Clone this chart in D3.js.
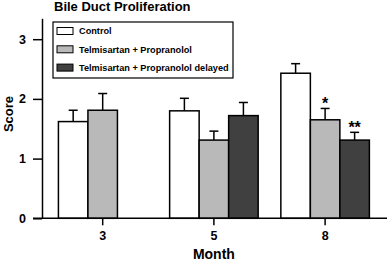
<!DOCTYPE html>
<html>
<head>
<meta charset="utf-8">
<script src="https://cdn.jsdelivr.net/npm/d3@7"></script>
<style>
  body { margin: 0; background: #fff; }
  svg text { font-family: "Liberation Sans", Arial, sans-serif; font-weight: bold; }
</style>
</head>
<body>
<div id="chart"></div>
<script>
var width = 387;
var height = 262;

// data
var months = ["3", "5", "8"];
var groups = ["Control", "Telmisartan + Propranolol", "Telmisartan + Propranolol delayed"];
var colors = ["#ffffff", "#b9b9b9", "#404040"];
var means = [
    [1.62, 1.81, null],
    [1.80, 1.31, 1.72],
    [2.43, 1.65, 1.31]
];
var errs = [
    [0.19, 0.28, null],
    [0.21, 0.15, 0.22],
    [0.16, 0.19, 0.13]
];
var marks = [
    ["", "", ""],
    ["", "", ""],
    ["", "*", "**"]
];
var yTicks = [0, 1, 2, 3];

var svg = d3.select('#chart').append('svg')
    .attr("width", width)
    .attr("height", height);

var y = d3.scaleLinear()
    .domain([0, 3.35])
    .range([218.3, 18.3]);

var x = d3.scaleBand()
    .domain(months)
    .range([47.3, 380.5])
    .paddingInner(0.204)
    .paddingOuter(0.1);

var xs = d3.scaleBand()
    .domain(groups)
    .range([0, x.bandwidth()]);

// bars
var rows = [];
months.forEach(function(m, i) {
    groups.forEach(function(g, j) {
        if (means[i][j] != null) {
            rows.push({month: m, group: g, j: j, v: means[i][j], e: errs[i][j], mark: marks[i][j]});
        }
    });
});

var bar = svg.append("g").selectAll("g")
    .data(rows)
    .enter().append("g")
    .attr("transform", function(d) { return "translate(" + (x(d.month) + xs(d.group)) + ",0)"; });

// error bars (upper only)
bar.append("line")
    .attr("x1", xs.bandwidth() / 2)
    .attr("x2", xs.bandwidth() / 2)
    .attr("y1", function(d) { return y(d.v); })
    .attr("y2", function(d) { return y(d.v + d.e); })
    .attr("stroke", "#000")
    .attr("stroke-width", 1.5);
bar.append("line")
    .attr("x1", xs.bandwidth() / 2 - 4.5)
    .attr("x2", xs.bandwidth() / 2 + 4.5)
    .attr("y1", function(d) { return y(d.v + d.e); })
    .attr("y2", function(d) { return y(d.v + d.e); })
    .attr("stroke", "#000")
    .attr("stroke-width", 1.5);

bar.append("rect")
    .attr("x", 0)
    .attr("width", xs.bandwidth())
    .attr("y", function(d) { return y(d.v); })
    .attr("height", function(d) { return y(0) - y(d.v); })
    .attr("fill", function(d) { return colors[d.j]; })
    .attr("stroke", "#000")
    .attr("stroke-width", 1.5);

bar.append("text")
    .attr("x", xs.bandwidth() / 2)
    .attr("y", function(d) { return y(d.v + d.e) + 1; })
    .attr("text-anchor", "middle")
    .style("font-size", "16px")
    .text(function(d) { return d.mark; });

// axes
var yAxis = svg.append("g")
    .attr("transform", "translate(42,0)")
    .call(d3.axisLeft(y).tickValues(yTicks).tickFormat(d3.format("d"))
        .tickSize(9).tickSizeOuter(0).tickPadding(7));
yAxis.select(".domain").attr("stroke-width", 1.5);
yAxis.selectAll(".tick line").attr("stroke-width", 1.5);
yAxis.selectAll("text").style("font-size", "12.5px").attr("fill", "#000");

var xAxis = svg.append("g")
    .attr("transform", "translate(0," + y(0) + ")")
    .call(d3.axisBottom(x).tickSize(7).tickPadding(6));
xAxis.select(".domain").remove();
xAxis.selectAll(".tick line").attr("stroke-width", 1.5);
xAxis.selectAll("text").style("font-size", "12.5px").attr("fill", "#000");
xAxis.append("line")
    .attr("x1", 33).attr("x2", width)
    .attr("stroke", "#000").attr("stroke-width", 1.5);

// titles
svg.append("text")
    .attr("x", 54).attr("y", 10.5)
    .style("font-size", "13px")
    .text("Bile Duct Proliferation");

svg.append("text")
    .attr("transform", "translate(13,114) rotate(-90)")
    .attr("text-anchor", "middle")
    .style("font-size", "13px")
    .text("Score");

svg.append("text")
    .attr("x", x("5") + x.bandwidth() / 2).attr("y", 259)
    .attr("text-anchor", "middle")
    .style("font-size", "14px")
    .text("Month");

// legend
var legend = svg.append("g");
legend.append("rect")
    .attr("x", 53).attr("y", 22)
    .attr("width", 180).attr("height", 56)
    .attr("fill", "#fff")
    .attr("stroke", "#000")
    .attr("stroke-width", 1.2);

var item = legend.selectAll(".item")
    .data(groups)
    .enter().append("g")
    .attr("transform", function(d, i) { return "translate(57," + (31 + i * 18.3) + ")"; });
item.append("rect")
    .attr("x", 0).attr("y", -3.5)
    .attr("width", 16).attr("height", 7)
    .attr("fill", function(d, i) { return colors[i]; })
    .attr("stroke", "#000")
    .attr("stroke-width", 1);
item.append("text")
    .attr("x", 22).attr("y", 3.3)
    .style("font-size", "9.2px")
    .text(function(d) { return d; });
</script>
</body>
</html>
